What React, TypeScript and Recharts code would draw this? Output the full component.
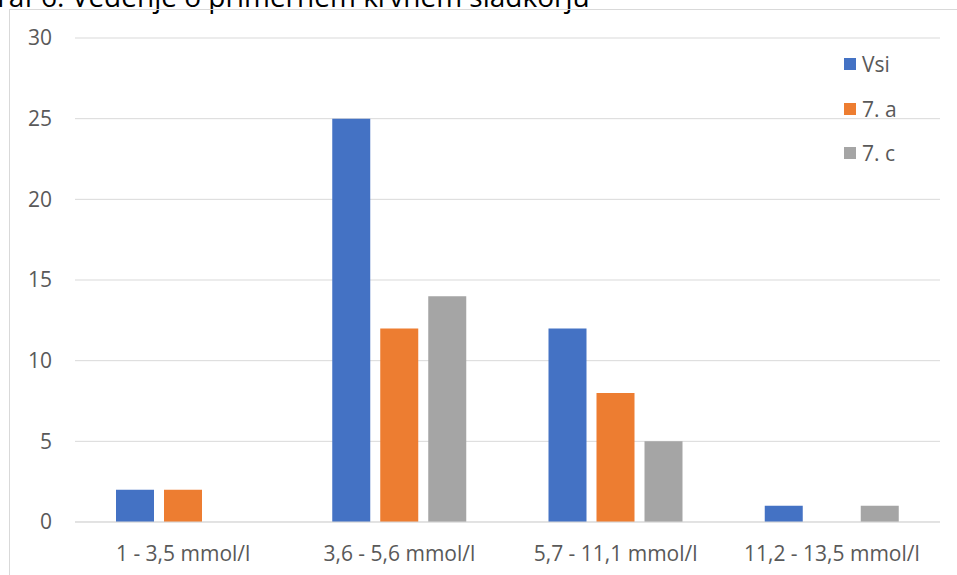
import React from 'react';
import { BarChart, Bar, XAxis, YAxis, CartesianGrid, Legend } from 'recharts';

const categories = ['1 - 3,5 mmol/l', '3,6 - 5,6 mmol/l', '5,7 - 11,1 mmol/l', '11,2 - 13,5 mmol/l'];
const vsi = [2, 25, 12, 1];
const sedemA = [2, 12, 8, 0];
const sedemC = [0, 14, 5, 1];
const yTicks = [0, 5, 10, 15, 20, 25, 30];
const seriesNames = ['Vsi', '7. a', '7. c'];
const seriesColors = ['#4472C4', '#ED7D31', '#A5A5A5'];
const title = 'Graf 6: Vedenje o primernem krvnem sladkorju';

const data = categories.map((c, i) => ({ name: c, Vsi: vsi[i], A: sedemA[i], C: sedemC[i] }));
const keys = ['Vsi', 'A', 'C'];

const FONT = "'Open Sans', sans-serif";

const LegendContent = () => (
  <div style={{ fontFamily: FONT, fontSize: 21, color: '#595959' }}>
    {seriesNames.map((n, i) => (
      <div key={n} style={{ display: 'flex', alignItems: 'center', height: 44.5 }}>
        <span style={{ display: 'inline-block', width: 12, height: 12, background: seriesColors[i], marginRight: 6 }} />
        <span>{n}</span>
      </div>
    ))}
  </div>
);

export default function App() {
  return (
    <div style={{ position: 'fixed', left: 0, top: 0, width: 957, height: 575, overflow: 'hidden', background: '#fff' }}>
      <svg width={957} height={30} style={{ position: 'absolute', left: 0, top: 0 }}>
        <text x={-23} y={7} fontFamily={FONT} fontSize={28} fill="#000">{title}</text>
      </svg>
      <div style={{ position: 'absolute', left: 9, top: 9, width: 980, height: 600, border: '1px solid #d9d9d9', boxSizing: 'border-box' }} />
      <div style={{ position: 'absolute', left: 0, top: 0 }}>
        <BarChart width={957} height={575} data={data} margin={{ top: 38, right: 17, bottom: 23, left: 0 }} barSize={38} barGap={10}>
          <CartesianGrid vertical={false} stroke="#d9d9d9" />
          <XAxis dataKey="name" axisLine={{ stroke: '#d9d9d9' }} tickLine={false} tickSize={0} tickMargin={24}
            tick={{ fill: '#595959', fontSize: 21, fontFamily: FONT }} interval={0} />
          <YAxis domain={[0, 30]} ticks={yTicks} width={75} axisLine={false} tickLine={false} tickSize={0} tickMargin={23}
            tick={{ fill: '#595959', fontSize: 21, fontFamily: FONT }} />
          <Legend layout="vertical" align="center" verticalAlign="middle" content={<LegendContent />}
            wrapperStyle={{ left: 844, top: 42, width: 110, height: 140 }} />
          {keys.map((k, i) => (
            <Bar key={k} dataKey={k} name={seriesNames[i]} fill={seriesColors[i]} isAnimationActive={false} />
          ))}
        </BarChart>
      </div>
    </div>
  );
}
